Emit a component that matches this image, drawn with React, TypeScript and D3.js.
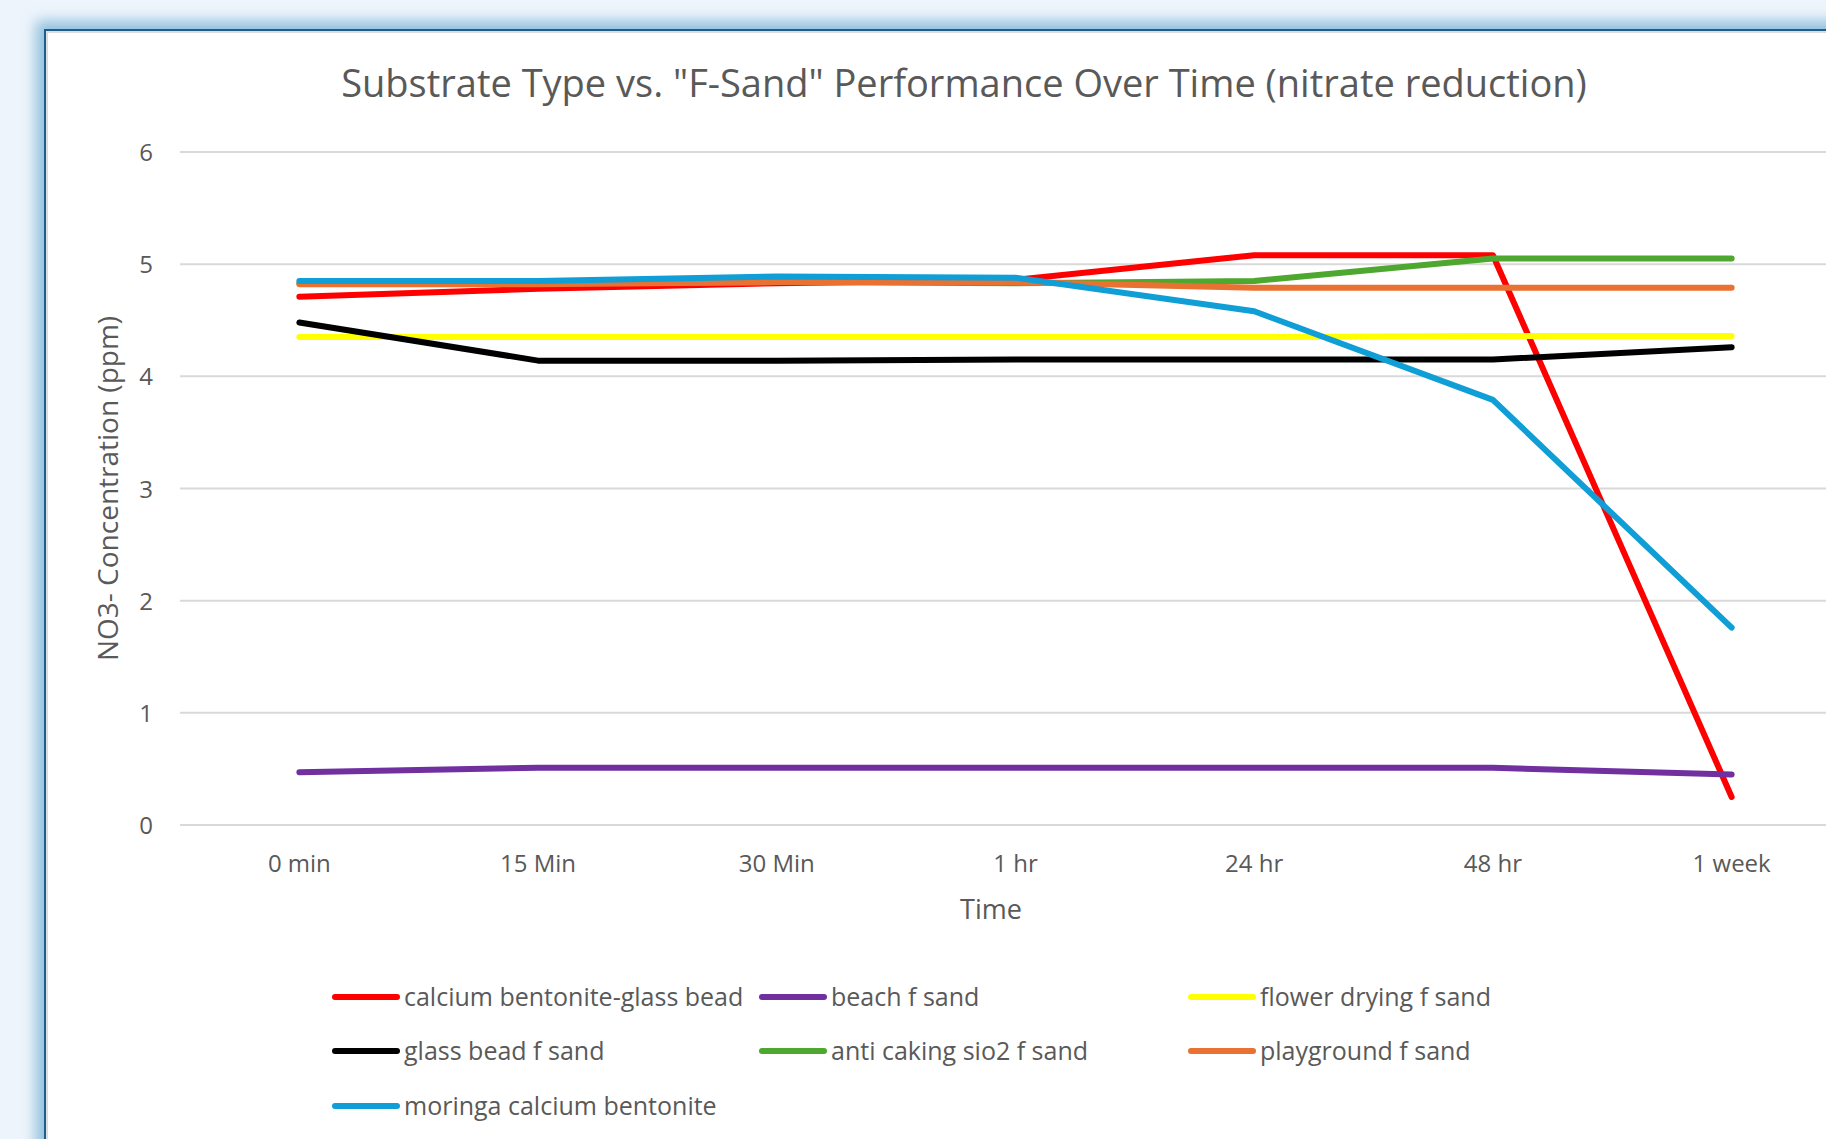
import React, { useEffect, useRef } from "react";
import * as d3 from "d3";

const categories = ["0 min", "15 Min", "30 Min", "1 hr", "24 hr", "48 hr", "1 week"];
const seriesNames = [
  "calcium bentonite-glass bead",
  "beach f sand",
  "flower drying f sand",
  "glass bead f sand",
  "anti caking sio2 f sand",
  "playground f sand",
  "moringa calcium bentonite",
];
const seriesColors = ["#ff0000", "#7030a0", "#ffff00", "#000000", "#4ea72e", "#e97132", "#0f9ed5"];
const calciumBentoniteGlassBead = [4.71, 4.78, 4.83, 4.86, 5.08, 5.08, 0.25];
const beachFSand = [0.47, 0.51, 0.51, 0.51, 0.51, 0.51, 0.45];
const flowerDryingFSand = [4.35, 4.35, 4.35, 4.35, 4.35, 4.36, 4.36];
const glassBeadFSand = [4.48, 4.14, 4.14, 4.15, 4.15, 4.15, 4.26];
const antiCakingSio2FSand = [4.83, 4.83, 4.84, 4.83, 4.85, 5.05, 5.05];
const playgroundFSand = [4.82, 4.82, 4.84, 4.84, 4.79, 4.79, 4.79];
const moringaCalciumBentonite = [4.85, 4.85, 4.89, 4.88, 4.58, 3.79, 1.76];
const seriesValues = [
  calciumBentoniteGlassBead,
  beachFSand,
  flowerDryingFSand,
  glassBeadFSand,
  antiCakingSio2FSand,
  playgroundFSand,
  moringaCalciumBentonite,
];
const yTicks = [0, 1, 2, 3, 4, 5, 6];

const FONT = "'Open Sans', sans-serif";
const TXT = "#595959";

export default function App() {
  const ref = useRef<SVGSVGElement>(null);
  useEffect(() => {
    document.body.style.margin = "0";
    const svg = d3.select(ref.current);
    svg.selectAll("*").remove();
    const W = 1826, H = 1139;
    const left = 180, right = 1851, top = 152, bottom = 825;

    const defs = svg.append("defs");
    const f = defs.append("filter").attr("id", "glow").attr("x", "-10%").attr("y", "-10%").attr("width", "120%").attr("height", "120%");
    f.append("feGaussianBlur").attr("stdDeviation", 7);

    svg.append("rect").attr("width", W).attr("height", H).attr("fill", "#edf4fb");
    svg.append("rect").attr("x", 36).attr("y", 21).attr("width", 1900).attr("height", 1200)
      .attr("fill", "#8fbfdc").attr("filter", "url(#glow)");
    svg.append("rect").attr("x", 45).attr("y", 30).attr("width", 1900).attr("height", 1200)
      .attr("fill", "#ffffff").attr("stroke", "#1d5e8c").attr("stroke-width", 2);
    svg.append("rect").attr("x", 47).attr("y", 32).attr("width", 1900).attr("height", 1200)
      .attr("fill", "none").attr("stroke", "#dcdcdc").attr("stroke-width", 2);

    const x = d3.scaleBand().domain(categories).range([left, right]);
    const y = d3.scaleLinear().domain([0, 6]).range([bottom, top]);

    const g = svg.append("g");
    g.selectAll("line.grid").data(yTicks).enter().append("line")
      .attr("x1", left).attr("x2", right)
      .attr("y1", (d) => y(d)).attr("y2", (d) => y(d))
      .attr("stroke", "#d9d9d9").attr("stroke-width", 2);

    g.selectAll("text.yt").data(yTicks).enter().append("text")
      .attr("x", 153).attr("y", (d) => y(d) + 9)
      .attr("text-anchor", "end").attr("font-family", FONT).attr("font-size", 24).attr("fill", TXT)
      .text((d) => String(d));

    g.selectAll("text.xt").data(categories).enter().append("text")
      .attr("x", (d) => (x(d) as number) + x.bandwidth() / 2).attr("y", 872)
      .attr("text-anchor", "middle").attr("font-family", FONT).attr("font-size", 24).attr("fill", TXT)
      .text((d) => d);

    svg.append("text").attr("x", 991).attr("y", 919).attr("text-anchor", "middle")
      .attr("font-family", FONT).attr("font-size", 27).attr("fill", TXT).text("Time");

    svg.append("text").attr("transform", `translate(118, ${(top + bottom) / 2}) rotate(-90)`)
      .attr("text-anchor", "middle").attr("font-family", FONT).attr("font-size", 28).attr("fill", TXT)
      .text("NO3- Concentration (ppm)");

    svg.append("text").attr("x", 964).attr("y", 97).attr("text-anchor", "middle")
      .attr("font-family", FONT).attr("font-size", 38).attr("fill", TXT)
      .text('Substrate Type vs. "F-Sand" Performance Over Time (nitrate reduction)');

    const line = d3.line<number>()
      .x((_, i) => (x(categories[i]) as number) + x.bandwidth() / 2)
      .y((d) => y(d));

    seriesValues.forEach((vals, si) => {
      g.append("path").attr("d", line(vals) as string).attr("fill", "none")
        .attr("stroke", seriesColors[si]).attr("stroke-width", 6)
        .attr("stroke-linecap", "round").attr("stroke-linejoin", "round");
    });

    const colX = [332, 759, 1188];
    const rowY = [997, 1051, 1106];
    seriesNames.forEach((name, i) => {
      const cx = colX[i % 3];
      const cy = rowY[Math.floor(i / 3)];
      svg.append("line").attr("x1", cx + 3).attr("x2", cx + 65).attr("y1", cy).attr("y2", cy)
        .attr("stroke", seriesColors[i]).attr("stroke-width", 6).attr("stroke-linecap", "round");
      svg.append("text").attr("x", cx + 72).attr("y", cy + 9)
        .attr("font-family", FONT).attr("font-size", 25).attr("fill", TXT).text(name);
    });
  }, []);
  return (
    <div style={{ position: "fixed", left: 0, top: 0 }}>
      <svg ref={ref} width={1826} height={1139} style={{ display: "block" }} />
    </div>
  );
}
